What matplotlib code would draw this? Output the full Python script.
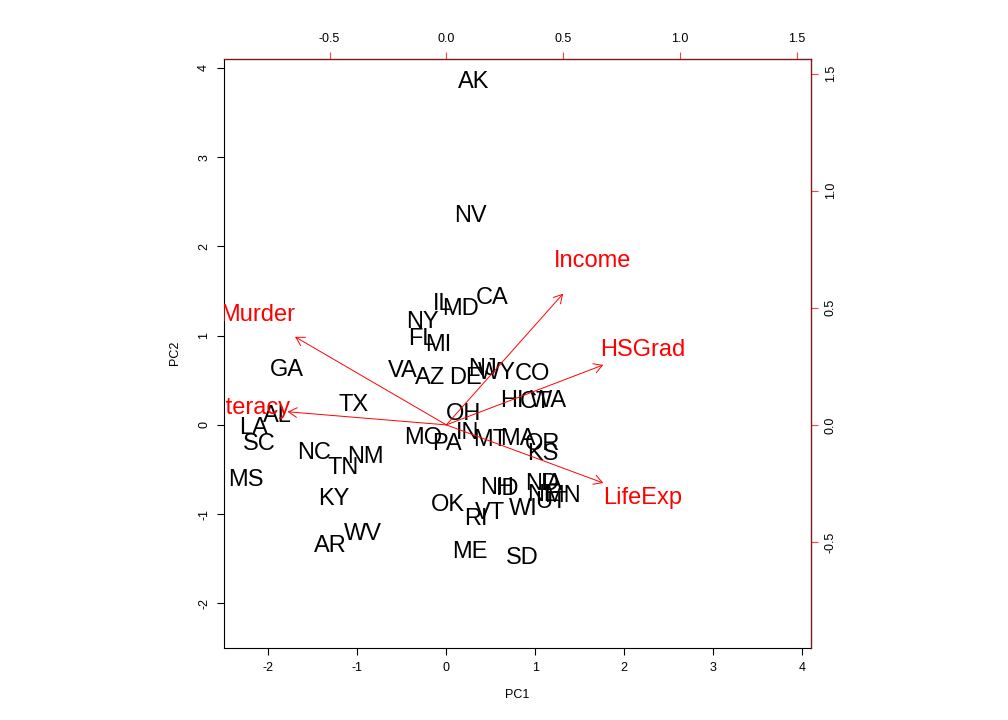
import matplotlib
matplotlib.use("Agg")
import matplotlib.pyplot as plt

plt.rcParams['font.family'] = ['Liberation Sans', 'DejaVu Sans']
plt.rcParams['axes.unicode_minus'] = False

# PCA scores (PC1, PC2)
states = ["AL", "AK", "AZ", "AR", "CA", "CO", "CT", "DE", "FL", "GA",
          "HI", "ID", "IL", "IN", "IA", "KS", "KY", "LA", "ME", "MD",
          "MA", "MI", "MN", "MS", "MO", "MT", "NE", "NV", "NH", "NJ",
          "NM", "NY", "NC", "ND", "OH", "OK", "OR", "PA", "RI", "SC",
          "SD", "TN", "TX", "UT", "VT", "VA", "WA", "WV", "WI", "WY"]
pc1 = [-1.90, 0.31, -0.18, -1.30, 0.52, 0.97, 1.00, 0.21, -0.27, -1.79,
       0.74, 0.69, -0.04, 0.24, 1.19, 1.09, -1.27, -2.17, 0.27, 0.16,
       0.80, -0.09, 1.31, -2.25, -0.26, 0.49, 1.09, 0.27, 0.57, 0.41,
       -0.91, -0.27, -1.49, 1.08, 0.19, 0.02, 1.08, 0.01, 0.33, -2.10,
       0.85, -1.16, -1.04, 1.17, 0.49, -0.49, 1.15, -0.94, 0.87, 0.57]
pc2 = [0.10, 3.84, 0.53, -1.36, 1.42, 0.57, 0.26, 0.53, 0.96, 0.61,
       0.27, -0.72, 1.36, -0.09, -0.66, -0.33, -0.83, -0.03, -1.42, 1.30,
       -0.16, 0.90, -0.80, -0.62, -0.15, -0.17, -0.78, 2.34, -0.71, 0.63,
       -0.36, 1.15, -0.31, -0.66, 0.12, -0.90, -0.21, -0.21, -1.06, -0.21,
       -1.49, -0.48, 0.22, -0.86, -0.99, 0.60, 0.27, -1.22, -0.94, 0.58]

# variable loadings (label positions on the secondary scale)
variables = ["Income", "Illiteracy", "LifeExp", "Murder", "HSGrad"]
load1 = [0.625, -0.85, 0.84, -0.81, 0.84]
load2 = [0.70, 0.07, -0.31, 0.47, 0.32]

lim = (-2.50, 4.10)
ratio = 2.625
lim2 = (lim[0] / ratio, lim[1] / ratio)

fig = plt.figure(figsize=(10.08, 7.2), dpi=100)
rect = [224 / 1008, 1 - 648 / 720, 587 / 1008, 589 / 720]
ax = fig.add_axes(rect)
ax2 = fig.add_axes(rect)
ax2.patch.set_visible(False)

ax.set_xlim(lim)
ax.set_ylim(lim)
for s, x, y in zip(states, pc1, pc2):
    ax.text(x, y, s, ha='center', va='center', fontsize=17, color='black', clip_on=True)

ax.set_xticks([-2, -1, 0, 1, 2, 3, 4])
ax.set_yticks([-2, -1, 0, 1, 2, 3, 4])
ax.tick_params(direction='out', length=5, width=0.8, labelsize=9, pad=5, colors='black')
ax.tick_params(axis='y', labelrotation=90)
for lab in ax.get_yticklabels():
    lab.set_va('center')
for sp in ['top', 'right']:
    ax.spines[sp].set_visible(False)

# secondary axes for loadings
ax2.set_xlim(lim2)
ax2.set_ylim(lim2)
ax2.xaxis.tick_top()
ax2.yaxis.tick_right()
ax2.set_xticks([-0.5, 0.0, 0.5, 1.0, 1.5])
ax2.set_yticks([-0.5, 0.0, 0.5, 1.0, 1.5])
ax2.tick_params(direction='out', length=5, width=0.8, labelsize=9, pad=5,
                color='#ff4040', labelcolor='black')
ax2.tick_params(axis='y', labelrotation=90)
for lab in ax2.get_yticklabels():
    lab.set_va('center')
ax2.spines['bottom'].set_visible(False)
ax2.spines['left'].set_visible(False)
for sp in ['top', 'right']:
    ax2.spines[sp].set_color('#7a1c1c')
    ax2.spines[sp].set_linewidth(1.0)

for v, x, y in zip(variables, load1, load2):
    ax2.annotate('', xy=(0.8 * x, 0.8 * y), xytext=(0, 0),
                 arrowprops=dict(arrowstyle='->,head_length=0.5,head_width=0.29',
                                 color='red', lw=0.7, shrinkA=0, shrinkB=0,
                                 mutation_scale=12))
    ax2.text(x, y, v, ha='center', va='center', fontsize=17, color='red', clip_on=True)

fig.text(517 / 1008, 1 - 695 / 720, 'PC1', ha='center', va='center', fontsize=9)
fig.text(175 / 1008, 1 - 353 / 720, 'PC2', ha='center', va='center', fontsize=9, rotation=90)

plt.savefig('out.png', dpi=100)
